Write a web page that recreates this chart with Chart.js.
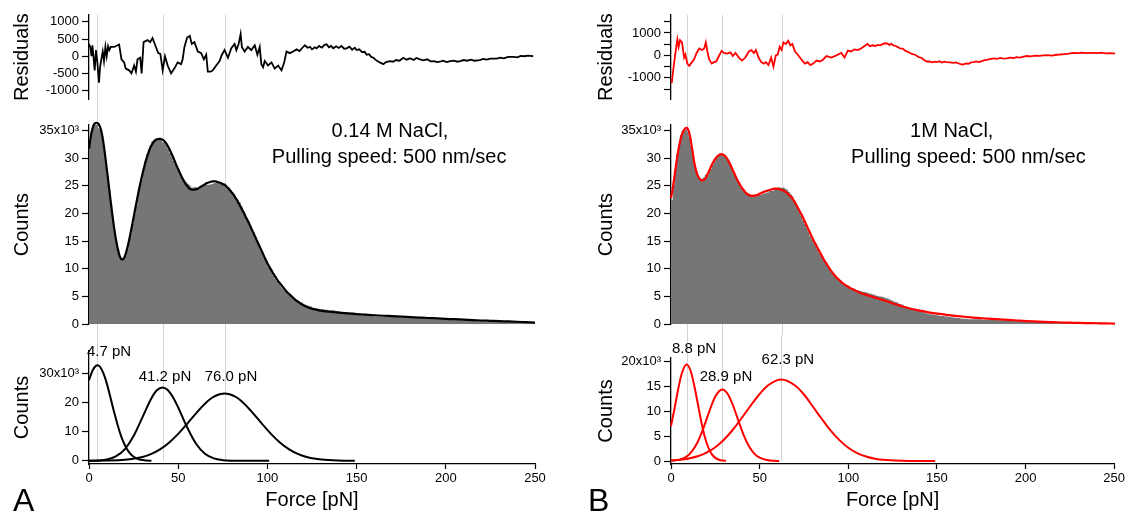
<!DOCTYPE html>
<html>
<head>
<meta charset="utf-8">
<script src="https://cdn.jsdelivr.net/npm/chart.js@4.4.1/dist/chart.umd.min.js"></script>
<style>
  body { margin: 0; background: #fff; width: 1127px; height: 514px; position: relative; overflow: hidden; }
  canvas { position: absolute; }
  .tag { position: absolute; font: 32px "Liberation Sans", Arial, sans-serif; line-height: 32px; color: #000; }
</style>
</head>
<body>
<canvas id="resA" width="560" height="110" style="left:0;top:0"></canvas>
<canvas id="histA" width="560" height="225" style="left:0;top:110px"></canvas>
<canvas id="compA" width="560" height="179" style="left:0;top:335px"></canvas>
<canvas id="resB" width="547" height="110" style="left:580px;top:0"></canvas>
<canvas id="histB" width="547" height="225" style="left:580px;top:110px"></canvas>
<canvas id="compB" width="547" height="179" style="left:580px;top:335px"></canvas>
<div class="tag" style="left:13px;top:484px">A</div>
<div class="tag" style="left:588px;top:484px">B</div>
<script>
// ---- data (counts in thousands unless noted) ----
const peaksA = [4.7, 41.2, 76.0];
const peaksB = [8.8, 28.9, 62.3];

// tick values
const forceTicks = [0, 50, 100, 150, 200, 250];
const resTicksA = [-1000, -500, 0, 500, 1000];
const resTicksB = [-1500, -1000, -500, 0, 500, 1000, 1500];
const countTicks = [0, 5, 10, 15, 20, 25, 30, 35];
const compTicksA = [0, 10, 20, 30];
const compTicksB = [0, 5, 10, 15, 20];

// histogram bins, 1 pN wide, starting at 0 pN
const histA = [
  33.1,34.9,35.9,36.1,36.3,35.4,35.1,34.0,31.7,29.5,
  26.8,24.2,21.6,19.1,16.9,15.0,13.5,12.3,11.7,11.8,
  12.4,13.5,14.8,16.3,18.1,19.9,21.4,23.4,25.0,26.1,
  28.2,29.5,30.7,31.6,32.4,33.1,33.4,33.6,33.6,33.6,
  33.4,32.9,33.0,32.4,31.7,30.9,30.2,29.5,28.8,28.2,
  27.5,26.7,26.2,26.0,25.7,25.4,25.1,24.7,24.7,24.8,
  24.7,24.7,24.9,25.0,25.1,25.4,25.2,25.2,25.3,25.4,
  25.5,25.5,25.5,25.4,25.4,25.4,25.2,24.7,24.5,24.2,
  23.9,23.5,22.9,22.5,22.1,21.3,20.5,19.8,19.2,18.6,
  17.9,17.1,16.6,15.8,14.9,14.4,13.2,12.5,11.9,11.2,
  10.4,10.0,9.4,8.7,8.2,7.8,7.3,6.8,6.5,6.2,
  6.1,5.8,5.4,5.2,4.9,4.6,4.4,4.2,4.0,3.9,
  3.7,3.5,3.4,3.3,3.2,3.0,2.9,2.9,2.8,2.7,
  2.7,2.7,2.6,2.6,2.5,2.5,2.5,2.5,2.4,2.4,
  2.3,2.2,2.2,2.2,2.2,2.1,2.1,2.1,2.1,2.0,
  2.0,1.9,1.9,1.9,1.9,1.7,1.7,1.7,1.7,1.6,
  1.4,1.4,1.4,1.4,1.3,1.4,1.4,1.4,1.4,1.4,
  1.3,1.3,1.3,1.3,1.2,1.2,1.2,1.2,1.2,1.2,
  1.2,1.1,1.1,1.1,1.1,1.1,1.1,1.0,1.0,1.0,
  1.0,1.0,1.0,0.9,0.9,0.9,0.9,0.9,0.9,0.9,
  0.9,0.9,0.8,0.8,0.8,0.8,0.8,0.8,0.7,0.7,
  0.7,0.7,0.7,0.7,0.7,0.6,0.6,0.6,0.6,0.6,
  0.6,0.6,0.5,0.5,0.5,0.5,0.5,0.5,0.5,0.5,
  0.5,0.5,0.5,0.5,0.5,0.5,0.5,0.4,0.4,0.4,
  0.4,0.4,0.4,0.4,0.4,0.4,0.3,0.3,0.3,0.3
];
const histB = [
  22.5,25.2,28.0,30.8,32.5,34.2,35.0,35.1,35.4,34.8,
  33.8,32.2,30.2,28.6,27.6,26.9,26.4,26.3,26.5,27.0,
  27.2,27.6,28.1,28.8,29.4,29.9,30.4,30.8,30.9,30.7,
  30.5,30.0,29.5,28.9,28.1,27.3,26.8,26.1,25.3,24.7,
  24.2,23.9,23.7,23.6,23.5,23.4,23.4,23.5,23.4,23.4,
  23.4,23.5,23.6,23.7,23.8,24.1,24.1,24.1,24.5,24.5,
  24.7,24.7,24.6,24.7,24.5,24.3,23.9,23.5,23.1,22.4,
  21.7,21.0,20.3,19.6,18.8,18.1,17.4,16.7,15.9,15.3,
  14.7,14.2,13.6,12.9,12.4,11.8,11.4,10.9,10.4,9.9,
  9.4,9.1,8.7,8.4,8.1,7.9,7.5,7.1,7.0,7.0,
  6.8,6.6,6.5,6.4,6.2,6.1,6.0,5.9,5.8,5.8,
  5.7,5.6,5.5,5.4,5.3,5.2,5.1,5.0,5.0,4.9,
  4.8,4.7,4.6,4.4,4.3,4.1,4.0,3.9,3.7,3.6,
  3.5,3.3,3.2,3.1,3.0,2.9,2.7,2.6,2.5,2.4,
  2.3,2.2,2.1,2.0,1.9,1.8,1.8,1.7,1.7,1.6,
  1.6,1.5,1.5,1.5,1.4,1.4,1.3,1.3,1.2,1.2,
  1.1,1.1,1.1,1.0,1.0,1.0,1.0,0.9,0.9,0.9,
  0.9,0.9,0.9,0.9,0.9,0.8,0.8,0.8,0.8,0.8,
  0.8,0.8,0.8,0.8,0.7,0.7,0.7,0.7,0.7,0.6,
  0.6,0.6,0.6,0.6,0.6,0.6,0.6,0.5,0.5,0.5,
  0.5,0.5,0.5,0.5,0.5,0.5,0.5,0.5,0.4,0.4,
  0.4,0.4,0.4,0.4,0.4,0.4,0.4,0.4,0.4,0.4,
  0.4,0.4,0.4,0.3,0.3,0.4,0.4,0.3,0.3,0.3,
  0.3,0.3,0.3,0.3,0.3,0.3,0.3,0.3,0.3,0.3,
  0.3,0.3,0.2,0.2,0.2,0.2,0.2,0.2,0.2,0.2
];

// fitted curve, sampled every 1 pN up to 130, then every 5 pN
const fitForce = [
  0,1,2,3,4,5,6,7,8,9,10,11,12,13,14,15,16,17,18,19,20,21,22,23,24,25,26,27,28,29,
  30,31,32,33,34,35,36,37,38,39,40,41,42,43,44,45,46,47,48,49,50,51,52,53,54,55,56,57,58,59,
  60,61,62,63,64,65,66,67,68,69,70,71,72,73,74,75,76,77,78,79,80,81,82,83,84,85,86,87,88,89,
  90,91,92,93,94,95,96,97,98,99,100,101,102,103,104,105,106,107,108,109,110,111,112,113,114,
  115,116,117,118,119,120,121,122,123,124,125,126,127,128,129,130,
  135,140,145,150,155,160,165,170,175,180,185,190,195,200,205,210,215,220,225,230,235,240,245,250
];
const fitA = [
  31.7,33.9,35.4,36.2,36.4,36.3,35.8,34.8,33.0,30.6,28.0,25.3,22.6,20.0,17.6,15.5,13.8,12.5,11.8,11.7,
  12.2,13.2,14.5,16.0,17.6,19.3,21.0,22.7,24.3,25.8,27.2,28.5,29.7,30.7,31.6,32.3,32.8,33.2,33.4,33.5,
  33.5,33.4,33.2,32.8,32.3,31.7,31.0,30.3,29.5,28.7,28.0,27.3,26.6,26.0,25.4,25.0,24.6,24.4,24.3,24.3,
  24.4,24.5,24.7,24.9,25.1,25.3,25.5,25.6,25.7,25.8,25.8,25.8,25.7,25.6,25.5,25.3,25.2,24.9,24.6,24.2,
  23.8,23.4,22.9,22.4,21.8,21.2,20.6,20.0,19.3,18.7,18.0,17.3,16.6,15.9,15.2,14.5,13.8,13.1,12.4,11.7,
  11.0,10.4,9.9,9.3,8.8,8.3,7.8,7.4,7.0,6.6,6.2,5.8,5.5,5.2,4.9,4.6,4.3,4.1,3.85,3.65,
  3.45,3.3,3.15,3.0,2.9,2.8,2.72,2.65,2.58,2.51,2.45,
  2.25,2.08,1.94,1.82,1.72,1.62,1.53,1.45,1.36,1.28,1.2,1.12,1.05,0.97,0.9,0.82,0.75,0.67,0.61,0.55,0.5,0.44,0.37,0.3
];
const fitB = [
  22.8,24.6,26.8,29.1,31.2,32.9,34.1,34.9,35.4,35.5,34.9,33.5,31.5,29.4,27.9,26.9,26.3,26.0,26.0,26.2,
  26.7,27.4,28.1,28.8,29.4,29.9,30.3,30.6,30.7,30.7,30.5,30.2,29.7,29.1,28.4,27.7,27.0,26.3,25.7,25.1,
  24.6,24.2,23.8,23.5,23.3,23.2,23.2,23.2,23.3,23.4,23.6,23.7,23.9,24.0,24.1,24.2,24.3,24.4,24.5,24.5,
  24.5,24.4,24.3,24.2,24.0,23.8,23.5,23.2,22.9,22.4,21.9,21.3,20.7,20.1,19.5,18.8,18.1,17.4,16.7,16.0,
  15.3,14.7,14.1,13.5,12.9,12.3,11.7,11.2,10.7,10.2,9.7,9.3,8.9,8.5,8.2,7.9,7.6,7.35,7.1,6.9,
  6.7,6.5,6.35,6.2,6.05,5.9,5.75,5.6,5.5,5.4,5.3,5.2,5.1,5.0,4.9,4.8,4.7,4.6,4.5,4.4,
  4.3,4.2,4.1,4.0,3.85,3.75,3.65,3.55,3.45,3.35,3.25,
  2.8,2.45,2.15,1.9,1.7,1.5,1.35,1.2,1.08,0.97,0.87,0.77,0.67,0.57,0.5,0.43,0.37,0.31,0.27,0.23,0.2,0.17,0.14,0.12
];

// residuals (counts)
const resForceA = [0,0.9,1.4,1.9,2.4,3.2,3.9,4.7,5.6,6.2,6.9,7.7,8.4,9.2,9.9,10.7,11.4,12.2,14.1,16.9,
  18.2,19.7,20.6,22.5,23.8,25.3,26.3,27.2,28.7,29.5,30.6,32.8,34.3,35.6,37.5,38.8,40.0,41.3,42.6,44.1,
  46.0,47.8,49.7,51.6,52.5,53.5,55.0,56.5,57.6,59.1,61.0,62.9,64.4,65.7,66.6,68.1,69.4,71.3,73.2,74.5,
  76.0,77.9,79.7,81.6,82.6,83.9,85.0,85.7,87.2,89.1,91.0,92.9,94.4,95.7,96.6,97.6,98.5,100.4,102.3,104.1,
  106.0,107.9,109.4,110.7,112.6,114.4,116.4,118,119.5,121,122.5,123.9,125,126.5,127.6,129,130.5,132,133.2,134.5,
  135.7,136.9,138.5,140,141.5,143,144.4,146,147.5,149,150,151.5,153,154.5,155.6,157,158.2,159.4,161,163,
  165,166.5,168.7,170.5,172,174,176.2,178,180,182,183.5,185.5,187.5,189.5,191.5,193.5,195,196.7,198.5,200.5,
  202.5,204.5,206.5,208,210,212,214,216,219,221,223,225,228.5,230.5,232.5,235,237.8,240,242,244,
  246,247.5,249];
const resA = [360,230,0,320,45,-410,180,-180,-770,-320,-90,136,-140,270,0,290,180,270,270,340,
  -90,-180,-360,-410,-500,-270,-450,-90,-45,-500,410,470,410,530,270,90,70,-410,0,-270,
  -500,-360,-180,-230,-90,270,545,590,360,410,136,90,-90,45,-450,-450,-410,-270,-140,45,
  180,-45,230,360,180,360,650,270,136,270,180,320,45,270,-230,-320,-140,-270,-180,-360,
  -270,-410,-180,136,90,136,200,150,240,320,250,270,200,260,230,300,250,330,345,260,
  300,230,290,240,300,220,230,280,190,250,180,200,120,130,45,60,-20,-45,-120,-180,
  -230,-170,-140,-160,-110,-130,-45,-100,-60,-110,-50,-90,-120,-90,-150,-140,-170,-160,-130,-170,
  -140,-130,-160,-140,-110,-130,-100,-130,-110,-80,-100,-70,-70,-40,-60,-20,-20,-30,10,0,
  20,10,0];
const resForceB = [0.4,1.4,2.5,3.6,4.3,5.1,6.2,7.4,8.1,9.2,10.3,11.8,13.1,14.4,15.9,17.4,18.7,19.6,20.5,21.4,
  22.9,24.2,25.5,27.0,28.5,29.8,31.7,33.5,34.8,36.3,38.2,40.0,41.9,43.8,45.2,46.7,47.8,49.3,50.8,52.3,
  53.4,54.9,56.4,57.7,59.0,60.1,61.2,62.3,63.3,64.6,66.0,67.2,68.3,69.8,71.3,72.6,73.9,75.4,76.9,78.4,
  80.1,81.9,83.8,85.6,87.5,90.3,93.1,95.9,97.7,99.6,101.4,103.3,105.1,107.0,108.8,110.7,112,113.5,115,116.5,
  118,119.5,121.4,123,124,125.2,126.5,128,129,130.5,132,133.5,134.6,136,137.5,139.3,141,142.5,144,145.5,
  147,148.5,149.6,151,152.5,154,155.2,157,159,160.5,162,163.5,164.6,166,167.5,169,170.2,172,173.5,175.8,
  177.5,179,181.5,183.5,185.5,187,189,191,193,194.5,196.5,198,200.3,202.5,205,207.5,209.6,212,214.5,217,
  219,221.5,224,226.5,229,231.5,234,236,237.8,240,242.5,245,247.5,250];
const resB = [-1240,-570,110,715,380,675,580,-95,40,-365,-460,-300,-160,110,310,240,310,580,175,-160,
  -365,-300,-270,-27,200,110,80,135,-27,110,-95,-230,-95,175,240,110,240,-95,-300,-365,
  -300,-430,-95,-500,0,40,380,240,580,510,650,445,510,175,40,-95,-230,-365,-300,-430,
  -365,-230,-270,-190,-27,-95,0,110,-95,215,175,270,240,310,405,510,405,450,420,470,
  450,520,540,470,520,445,420,360,310,300,200,160,110,60,30,-70,-110,-200,-270,-270,
  -310,-280,-300,-260,-320,-280,-300,-310,-330,-310,-360,-400,-405,-360,-370,-310,-300,-270,-300,-230,
  -200,-180,-135,-150,-110,-140,-135,-100,-120,-80,-95,-60,-27,-40,-10,-20,0,10,-5,30,
  40,60,80,110,100,120,100,115,110,100,120,95,100,80];

// single components
const compA1x = [0,2,4,4.7,6,8,10,12,14,16,18,20,22,24,26,28,30,32,35];
const compA1y = [27.7,31.0,32.7,32.8,32.4,30.2,26.5,21.8,16.9,12.4,8.5,5.5,3.3,1.9,1.03,0.52,0.25,0.11,0.03];
const compA2x = [0,5,10,15,20,25,30,35,38,41.2,44,47,50,55,60,65,70,75,80,90,101];
const compA2y = [0.02,0.11,0.45,1.48,3.94,8.5,15.0,21.5,24.2,25.2,24.4,21.9,18.3,11.5,5.85,2.43,0.82,0.22,0.05,0,0];
const compA3x = [0,10,20,30,35,40,45,50,55,60,65,70,76,82,87,92,97,102,107,112,117,122,127,132,137,143,149];
const compA3y = [0.01,0.06,0.33,1.31,2.37,4.0,6.28,9.24,12.7,16.3,19.6,22.0,23.1,22.0,19.6,16.3,12.7,9.24,6.28,4.0,2.37,1.31,0.68,0.33,0.15,0.05,0.02];
const compB1x = [0,2,4,6,8.8,11,13,15,17,19,21,23,25,27,29,31];
const compB1y = [7.0,10.5,14.3,17.4,19.3,18.1,15.3,11.7,8.0,4.9,2.75,1.38,0.62,0.25,0.09,0.03];
const compB2x = [0,5,10,14,18,22,25,28.9,32,35,38,41,44,47,50,54,58,61];
const compB2y = [0.04,0.27,1.21,3.08,6.29,10.3,12.9,14.3,13.4,11.1,8.07,5.19,2.95,1.48,0.66,0.18,0.04,0.01];
const compB3x = [0,5,10,15,20,25,30,35,40,45,50,55,62.3,70,75,80,85,90,95,100,105,110,115,120,130,140,149];
const compB3y = [0.12,0.25,0.5,0.94,1.67,2.76,4.31,6.3,8.65,11.1,13.4,15.2,16.3,15.1,13.3,10.9,8.45,6.12,4.17,2.66,1.59,0.9,0.47,0.23,0.05,0.01,0];

// ---- drawing ----
const FONT = '"Liberation Sans", Arial, Helvetica, sans-serif';
Chart.defaults.font.family = FONT;
Chart.defaults.color = '#000';

function zip(xs, ys) { return xs.map((x, i) => ({ x: x, y: ys[i] })); }
function bins(vals) {
  const p = vals.map((v, i) => ({ x: i, y: v }));
  p.push({ x: vals.length, y: vals[vals.length - 1] });
  return p;
}

// grey guide lines at the peak positions, running through all three plots
const peakLines = {
  id: 'peakLines',
  beforeDatasetsDraw(chart, args, opts) {
    if (!opts.peaks) return;
    const { ctx, chartArea, scales } = chart;
    const top = opts.from === 'area' ? chartArea.top : 0;
    const bottom = opts.to === 'zero' ? scales.y.getPixelForValue(0) : chart.height;
    ctx.save();
    ctx.strokeStyle = '#d4d4d4';
    ctx.lineWidth = 1;
    opts.peaks.forEach(p => {
      const x = Math.round(scales.x.getPixelForValue(p)) + 0.5;
      ctx.beginPath(); ctx.moveTo(x, top); ctx.lineTo(x, bottom); ctx.stroke();
    });
    ctx.restore();
  }
};

const notes = {
  id: 'notes',
  afterDatasetsDraw(chart, args, opts) {
    if (!opts.items) return;
    const { ctx, scales } = chart;
    ctx.save();
    ctx.fillStyle = '#000';
    ctx.textBaseline = 'middle';
    opts.items.forEach(t => {
      ctx.font = t.size + 'px ' + FONT;
      ctx.textAlign = t.align || 'center';
      ctx.fillText(t.text, scales.x.getPixelForValue(t.x), scales.y.getPixelForValue(t.y));
    });
    ctx.restore();
  }
};
Chart.register(peakLines, notes);

function yAxis(o) {
  return {
    min: o.min, max: o.max,
    afterFit: s => { s.width = o.w; },
    afterBuildTicks: s => { s.ticks = o.ticks.map(v => ({ value: v })); },
    ticks: { padding: 3, font: { size: 13 }, color: '#000', autoSkip: false, callback: o.fmt },
    grid: { drawOnChartArea: false, color: '#000', tickLength: 7, tickWidth: 1.2 },
    border: { color: '#000', width: 1.3 },
    title: { display: true, text: o.title, font: { size: 20 }, color: '#000', padding: { top: o.tp, bottom: 0 } }
  };
}

const xHidden = { type: 'linear', min: 0, max: 250, display: false };
const xForce = {
  type: 'linear', min: 0, max: 250,
  afterFit: s => { s.height = 50; },
  afterBuildTicks: s => { s.ticks = forceTicks.map(v => ({ value: v })); },
  ticks: { padding: 2, font: { size: 13 }, color: '#000', maxRotation: 0, autoSkip: false, callback: v => v },
  grid: { drawOnChartArea: false, color: '#000', tickLength: 5, tickWidth: 1.2 },
  border: { color: '#000', width: 1.3 },
  title: { display: true, text: 'Force [pN]', font: { size: 20 }, color: '#000', padding: { top: 0, bottom: 2 } }
};

function base(pad, x, y, plugins) {
  return {
    responsive: false, animation: false, devicePixelRatio: 1, events: [],
    layout: { padding: pad },
    plugins: Object.assign({ legend: { display: false }, tooltip: { enabled: false } }, plugins),
    scales: { x: x, y: y }
  };
}

function panel(p) {
  new Chart(document.getElementById('res' + p.id), {
    type: 'line',
    data: { datasets: [{ data: zip(p.resX, p.res), borderColor: p.color, borderWidth: 1.8, pointRadius: 0, tension: 0 }] },
    options: base({ left: 0, right: p.padR, top: 15, bottom: 3 }, xHidden,
      yAxis({ min: p.resMin, max: p.resMax, ticks: p.resTicks, w: p.axisW, tp: p.tp, title: 'Residuals', fmt: p.resFmt }),
      { peakLines: { peaks: p.peaks, from: 'area', to: 'bottom' } })
  });

  new Chart(document.getElementById('hist' + p.id), {
    type: 'line',
    data: { datasets: [
      { data: zip(fitForce, p.fit), borderColor: p.color, borderWidth: 2.2, pointRadius: 0, cubicInterpolationMode: 'monotone', clip: false },
      { data: bins(p.hist), stepped: 'before', fill: 'origin', backgroundColor: '#767676', borderWidth: 0, borderColor: 'rgba(0,0,0,0)', pointRadius: 0, clip: false }
    ] },
    options: base({ left: 0, right: p.padR, top: 15, bottom: 7 }, xHidden,
      yAxis({ min: 0, max: 36, ticks: countTicks, w: p.axisW, tp: p.tp, title: 'Counts', fmt: v => v === 35 ? '35x10³' : v }),
      { peakLines: { peaks: p.peaks, from: 'top', to: 'bottom' }, notes: { items: p.text } })
  });

  const comp = (xs, ys) => ({ data: zip(xs, ys), borderColor: p.color, borderWidth: 2, pointRadius: 0, cubicInterpolationMode: 'monotone', clip: false });
  new Chart(document.getElementById('comp' + p.id), {
    type: 'line',
    data: { datasets: p.comps.map(c => comp(c[0], c[1])) },
    options: base({ left: 0, right: p.padR, top: p.compTop, bottom: 0 }, xForce,
      yAxis({ min: p.compMin, max: p.compMax, ticks: p.compTicks, w: p.axisW, tp: p.tp, title: 'Counts',
        fmt: v => v === p.compTicks[p.compTicks.length - 1] ? v + 'x10³' : v }),
      { peakLines: { peaks: p.peaks, from: 'top', to: 'zero' }, notes: { items: p.peakText } })
  });
}

panel({
  id: 'A', color: '#000', axisW: 89, padR: 25, tp: 10, peaks: peaksA,
  resX: resForceA, res: resA, resMin: -1250, resMax: 1200, resTicks: resTicksA, resFmt: v => v,
  fit: fitA, hist: histA,
  text: [
    { text: '0.14 M NaCl,', x: 136, y: 34.8, size: 20, align: 'left' },
    { text: 'Pulling speed: 500 nm/sec', x: 102.5, y: 30.2, size: 20, align: 'left' }
  ],
  comps: [[compA1x, compA1y], [compA2x, compA2y], [compA3x, compA3y]],
  compTop: 16, compMin: -1.1, compMax: 37.7, compTicks: compTicksA,
  peakText: [
    { text: '4.7 pN', x: 11.2, y: 37.3, size: 15 },
    { text: '41.2 pN', x: 42.6, y: 28.8, size: 15 },
    { text: '76.0 pN', x: 79.6, y: 28.8, size: 15 }
  ]
});

panel({
  id: 'B', color: '#ff0000', axisW: 91, padR: 12, tp: 14, peaks: peaksB,
  resX: resForceB, res: resB, resMin: -1950, resMax: 1800, resTicks: resTicksB, resFmt: v => (v % 1000 === 0 ? v : ''),
  fit: fitB, hist: histB,
  text: [
    { text: '1M NaCl,', x: 134.6, y: 34.8, size: 20, align: 'left' },
    { text: 'Pulling speed: 500 nm/sec', x: 101.4, y: 30.2, size: 20, align: 'left' }
  ],
  comps: [[compB1x, compB1y], [compB2x, compB2y], [compB3x, compB3y]],
  compTop: 23, compMin: -0.6, compMax: 20.6, compTicks: compTicksB,
  peakText: [
    { text: '8.8 pN', x: 13.0, y: 22.4, size: 15 },
    { text: '28.9 pN', x: 31.0, y: 16.8, size: 15 },
    { text: '62.3 pN', x: 65.9, y: 20.2, size: 15 }
  ]
});
</script>
</body>
</html>
